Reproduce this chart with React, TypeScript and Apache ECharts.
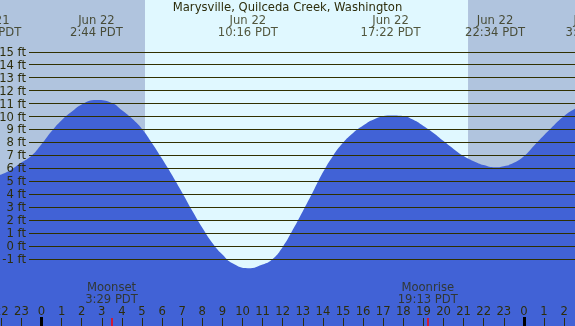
import React, { useEffect, useRef } from "react";
import * as echarts from "echarts";

const TITLE = "Marysville, Quilceda Creek, Washington";

// Tide heights: half-hour samples plus the high/low points
// (hours from Jun 22 00:00 PDT, feet)
const tideHours = [
  -3, -2.5, -2, -1.5, -1, -0.5, 0, 0.5, 1, 1.5, 2, 2.733, 3.5, 4, 4.5, 5, 5.5, 6, 6.5,
  7, 7.5, 8, 8.5, 9, 9.5, 10.267, 11, 11.5, 12, 12.5, 13, 13.5, 14, 14.5, 15, 15.5, 16, 16.5,
  17.367, 18, 18.5, 19, 19.5, 20, 20.5, 21, 21.5, 22, 22.567, 23, 23.5, 24, 24.5, 25, 25.5, 26, 26.5,
  27, 27.383, 28,
];
const tideHeights = [
  5.45, 5.4, 5.53, 5.91, 6.44, 6.97, 7.86, 8.86, 9.72, 10.37, 10.93, 11.27, 11.04, 10.48, 9.84, 9.04, 7.94, 6.74, 5.46,
  4.11, 2.72, 1.41, 0.24, -0.66, -1.34, -1.72, -1.43, -1.0, -0.07, 1.25, 2.69, 4.17, 5.69, 6.96, 7.97, 8.73, 9.3, 9.76,
  10.07, 10.03, 9.75, 9.27, 8.73, 8.1, 7.5, 6.95, 6.55, 6.25, 6.08, 6.16, 6.42, 6.93, 7.75, 8.56, 9.33, 10.04, 10.56,
  10.88, 11.0, 10.9,
];

// High / low tide labels
const extremeHours = [-2.5, 2.733, 10.267, 17.367, 22.567, 27.383];
const extremeDates = ["Jun 21", "Jun 22", "Jun 22", "Jun 22", "Jun 22", "Jun 23"];
const extremeTimes = ["21:30 PDT", "2:44 PDT", "10:16 PDT", "17:22 PDT", "22:34 PDT", "3:23 PDT"];

// Moon events
const moonHours = [3.483, 19.217];
const moonNames = ["Moonset", "Moonrise"];
const moonTimes = ["3:29 PDT", "19:13 PDT"];

// Sun
const sunriseHour = 5.15;
const sunsetHour = 21.22;

// Axis ticks
const ftTicks = [-1, 0, 1, 2, 3, 4, 5, 6, 7, 8, 9, 10, 11, 12, 13, 14, 15];
const hourTicks = [-2, -1, 0, 1, 2, 3, 4, 5, 6, 7, 8, 9, 10, 11, 12, 13, 14, 15, 16, 17, 18, 19, 20, 21, 22, 23, 24, 25, 26];
const midnightTicks = [0, 24];

// Layout constants
const X_MIN = -2.065;
const X_MAX = 26.542;
const Y_MIN = -6.18;
const Y_MAX = 19.0;
const LINE_START = -0.622;
const TOP_LABEL_FT = 17.0;
const MOON_LABEL_FT = -3.65;

const TEXT = "#2d2d0c";
const LINE = "#303000";
const NIGHT = "#b0c4de";
const DAY = "#e0f8ff";
const WATER = "#4162d6";
const FONT = "DejaVu Sans";
const FS = 11.6;

export default function App() {
  const ref = useRef<HTMLDivElement>(null);
  useEffect(() => {
    if (!ref.current) return;
    const chart = echarts.init(ref.current, undefined, { renderer: "svg" });
    const xBase = {
      type: "value" as const,
      min: X_MIN,
      max: X_MAX,
      position: "bottom" as const,
      z: 10,
      axisLine: { show: false, onZero: false },
      splitLine: { show: false },
    };
    chart.setOption({
      animation: false,
      title: {
        text: TITLE,
        left: "center",
        top: 1,
        padding: 0,
        textStyle: { fontFamily: FONT, fontSize: FS, fontWeight: "normal", color: TEXT },
      },
      grid: { left: 0, right: 0, top: 0, bottom: 0, containLabel: false, outerBoundsMode: "none" },
      xAxis: [
        {
          ...xBase,
          axisTick: {
            show: true,
            inside: true,
            length: 8,
            customValues: hourTicks,
            lineStyle: { color: TEXT, width: 1 },
          },
          axisLabel: {
            show: true,
            inside: true,
            margin: 9,
            hideOverlap: false,
            customValues: hourTicks,
            formatter: (v: number) => String(((Math.round(v) % 24) + 24) % 24),
            fontFamily: FONT,
            fontSize: FS,
            color: TEXT,
          },
        },
        {
          ...xBase,
          axisTick: {
            show: true,
            inside: true,
            length: 9,
            customValues: midnightTicks,
            lineStyle: { color: "#000000", width: 3 },
          },
          axisLabel: { show: false },
        },
        {
          ...xBase,
          axisTick: {
            show: true,
            inside: true,
            length: 8,
            customValues: moonHours,
            lineStyle: { color: "#ff0000", width: 1.5 },
          },
          axisLabel: { show: false },
        },
      ],
      yAxis: {
        type: "value",
        min: Y_MIN,
        max: Y_MAX,
        position: "left",
        offset: -29,
        z: 10,
        axisLine: { show: false },
        axisTick: { show: false },
        splitLine: { show: false },
        axisLabel: {
          show: true,
          margin: 3,
          customValues: ftTicks,
          formatter: "{value} ft",
          fontFamily: FONT,
          fontSize: FS,
          color: TEXT,
        },
      },
      series: [
        {
          type: "line",
          data: [],
          z: 1,
          silent: true,
          markArea: {
            silent: true,
            label: { show: false },
            data: [
              [{ xAxis: X_MIN, itemStyle: { color: NIGHT } }, { xAxis: sunriseHour }],
              [{ xAxis: sunriseHour, itemStyle: { color: DAY } }, { xAxis: sunsetHour }],
              [{ xAxis: sunsetHour, itemStyle: { color: NIGHT } }, { xAxis: X_MAX }],
            ],
          },
        },
        {
          type: "line",
          z: 2,
          silent: true,
          smooth: 0.5,
          symbol: "none",
          lineStyle: { width: 0 },
          areaStyle: { color: WATER, opacity: 1, origin: "start" },
          data: tideHours.map((h, i) => [h, tideHeights[i]]),
        },
        {
          type: "line",
          data: [],
          z: 3,
          silent: true,
          markLine: {
            silent: true,
            symbol: ["none", "none"],
            label: { show: false },
            lineStyle: { color: LINE, width: 1, type: "solid" },
            data: ftTicks.map((v) => [{ coord: [LINE_START, v] }, { coord: [X_MAX, v] }]),
          },
        },
        {
          type: "scatter",
          z: 4,
          silent: true,
          clip: false,
          symbolSize: 1,
          itemStyle: { color: "rgba(0,0,0,0)" },
          label: {
            show: true,
            position: "inside",
            align: "center",
            verticalAlign: "middle",
            lineHeight: 12,
            fontFamily: FONT,
            fontSize: FS,
            color: TEXT,
          },
          data: extremeHours.map((h, i) => ({
            value: [h, TOP_LABEL_FT],
            label: { formatter: extremeDates[i] + "\n" + extremeTimes[i] },
          })),
        },
        {
          type: "scatter",
          z: 4,
          silent: true,
          clip: false,
          symbolSize: 1,
          itemStyle: { color: "rgba(0,0,0,0)" },
          label: {
            show: true,
            position: "inside",
            align: "center",
            verticalAlign: "middle",
            lineHeight: 12,
            fontFamily: FONT,
            fontSize: FS,
            color: TEXT,
          },
          data: moonHours.map((h, i) => ({
            value: [h, MOON_LABEL_FT],
            label: { formatter: moonNames[i] + "\n" + moonTimes[i] },
          })),
        },
      ],
    });
    return () => chart.dispose();
  }, []);
  return (
    <div
      ref={ref}
      style={{ position: "fixed", left: 0, top: 0, width: 575, height: 326 }}
    />
  );
}
